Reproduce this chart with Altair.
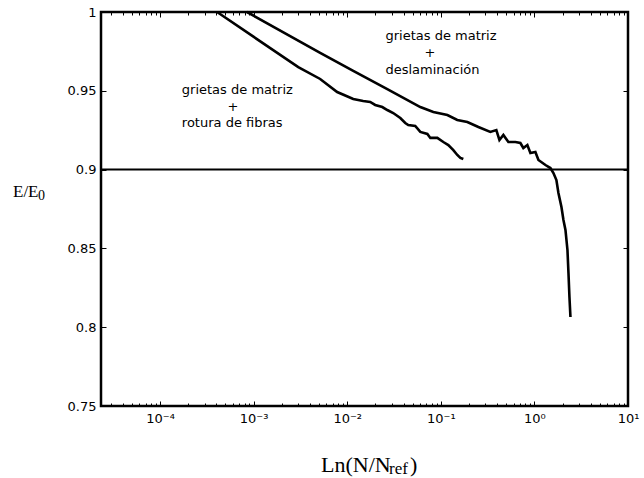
import altair as alt
import pandas as pd

# ---- data ----
delam_x = [8.5e-4, 5.14e-3, 0.0116, 0.0268, 0.0604, 0.0832, 0.1175, 0.150, 0.192, 0.252,
           0.338, 0.392, 0.423, 0.466, 0.527, 0.626, 0.708, 0.762, 0.841, 0.906,
           1.025, 1.104, 1.312, 1.483, 1.597, 1.718, 1.806, 1.945, 2.043, 2.147,
           2.255, 2.312, 2.368, 2.427]
delam_y = [1.0, 0.974, 0.9626, 0.9511, 0.9397, 0.9366, 0.9346, 0.9315, 0.9302, 0.9270,
           0.9239, 0.9251, 0.9188, 0.9220, 0.9175, 0.9175, 0.9169, 0.9137, 0.9156, 0.9105,
           0.9112, 0.9061, 0.9029, 0.9010, 0.8978, 0.8934, 0.8852, 0.8763, 0.8680, 0.8617,
           0.8490, 0.8344, 0.8192, 0.8065]

fibras_x = [4.07e-4, 3.0e-3, 5.14e-3, 7.81e-3, 0.0116, 0.0148, 0.0176, 0.0199, 0.0237, 0.0268, 0.0310,
            0.0369, 0.0417, 0.0449, 0.0533, 0.0604, 0.0718, 0.0773, 0.0918, 0.1064, 0.1203,
            0.1361, 0.150, 0.1618, 0.174]
fibras_y = [1.0, 0.9650, 0.9575, 0.9492, 0.9448, 0.9435, 0.9429, 0.9410, 0.9397, 0.9378, 0.9359,
            0.9327, 0.9296, 0.9283, 0.9277, 0.9239, 0.9226, 0.9201, 0.9201, 0.9175, 0.9156,
            0.9124, 0.9093, 0.9074, 0.9067]

threshold = [0.9]

ann1_text = ["grietas de matriz", "+", "rotura de fibras"]
ann1_x = [6.7e-4, 6.0e-4, 5.9e-4]
ann1_y = [0.9505, 0.9397, 0.9296]

ann2_text = ["grietas de matriz", "+", "deslaminación"]
ann2_x = [0.1005, 0.0767, 0.0815]
ann2_y = [0.9848, 0.9740, 0.9632]

x_domain = [2.34e-5, 10]
y_domain = [0.75, 1.0]
x_major = [1e-4, 1e-3, 1e-2, 1e-1, 1, 10]
x_minor = [k * 10.0 ** e for e in range(-5, 1) for k in range(2, 10) if k * 10.0 ** e >= 2.34e-5]
y_ticks = [0.75, 0.8, 0.85, 0.9, 0.95, 1.0]

y_title = ["E/E", "0"]
x_title = ["Ln(N/N", "ref", ")"]

LABEL_FONT = "DejaVu Sans"
SERIF = "Liberation Serif"

xscale = alt.Scale(type="log", domain=x_domain, nice=False)
yscale = alt.Scale(domain=y_domain, nice=False)


def x_axis(orient, values, size, labels=False):
    kw = dict(orient=orient, values=values, tickSize=size, offset=-size, domain=False,
              grid=False, labels=labels, title=None, tickColor="black", tickWidth=1)
    if labels:
        kw.update(labelExpr=("datum.value < 5e-4 ? '10⁻⁴' : datum.value < 5e-3 ? '10⁻³' : "
                             "datum.value < 5e-2 ? '10⁻²' : datum.value < 0.5 ? '10⁻¹' : "
                             "datum.value < 5 ? '10⁰' : '10¹'"),
                  labelFont=LABEL_FONT, labelFontSize=13, labelColor="black",
                  labelPadding=6, labelFlush=False)
    return alt.Axis(**kw)


def y_axis(orient, labels=False):
    kw = dict(orient=orient, values=y_ticks, tickSize=5, offset=-5, domain=False,
              grid=False, labels=labels, title=None, tickColor="black", tickWidth=1)
    if labels:
        kw.update(labelExpr="'' + datum.value", labelFont=LABEL_FONT, labelFontSize=13,
                  labelColor="black", labelPadding=5, labelFlush=False)
    return alt.Axis(**kw)


delam_df = pd.DataFrame({"x": delam_x, "y": delam_y, "i": range(len(delam_x))})
fibras_df = pd.DataFrame({"x": fibras_x, "y": fibras_y, "i": range(len(fibras_x))})
ann1_df = pd.DataFrame({"x": ann1_x, "y": ann1_y, "t": ann1_text})
ann2_df = pd.DataFrame({"x": ann2_x, "y": ann2_y, "t": ann2_text})
thr_df = pd.DataFrame({"y": threshold})

delam = alt.Chart(delam_df).mark_line(color="black", strokeWidth=2.6).encode(
    x=alt.X("x:Q", scale=xscale, axis=x_axis("bottom", x_major, 5, labels=True)),
    y=alt.Y("y:Q", scale=yscale, axis=y_axis("left", labels=True)),
    order="i:Q",
)

fibras = alt.Chart(fibras_df).mark_line(color="black", strokeWidth=2.6).encode(
    x=alt.X("x:Q", scale=xscale, axis=x_axis("bottom", x_minor, 3)),
    y=alt.Y("y:Q", scale=yscale, axis=y_axis("right")),
    order="i:Q",
)

ann1 = alt.Chart(ann1_df).mark_text(font=LABEL_FONT, fontSize=13, color="black",
                                    align="center", baseline="middle").encode(
    x=alt.X("x:Q", scale=xscale, axis=x_axis("top", x_major, 5)),
    y=alt.Y("y:Q", scale=yscale, axis=None),
    text="t:N",
)

ann2 = alt.Chart(ann2_df).mark_text(font=LABEL_FONT, fontSize=13, color="black",
                                    align="center", baseline="middle").encode(
    x=alt.X("x:Q", scale=xscale, axis=x_axis("top", x_minor, 3)),
    y=alt.Y("y:Q", scale=yscale, axis=None),
    text="t:N",
)

thr = alt.Chart(thr_df).mark_rule(color="black", strokeWidth=2).encode(
    y=alt.Y("y:Q", scale=yscale, axis=None),
)

one = alt.Data(values=[{}])

frame = alt.Chart(one).mark_rect(fill="white", fillOpacity=0, stroke="black",
                                 strokeWidth=2.5, strokeOpacity=1).encode(
    x=alt.value(0), x2=alt.value("width"), y=alt.value(0), y2=alt.value("height"))

titles = [
    alt.Chart(one).mark_text(text=y_title[0], font=SERIF, fontSize=17, color="black",
                             align="left", baseline="alphabetic").encode(
        x=alt.value(-88), y=alt.value(185)),
    alt.Chart(one).mark_text(text=y_title[1], font=SERIF, fontSize=14, color="black",
                             align="left", baseline="alphabetic").encode(
        x=alt.value(-63), y=alt.value(188)),
    alt.Chart(one).mark_text(text=x_title[0], font=SERIF, fontSize=22, color="black",
                             align="left", baseline="alphabetic").encode(
        x=alt.value(220), y=alt.value(460)),
    alt.Chart(one).mark_text(text=x_title[1], font=SERIF, fontSize=17, color="black",
                             align="left", baseline="alphabetic").encode(
        x=alt.value(288), y=alt.value(462)),
    alt.Chart(one).mark_text(text=x_title[2], font=SERIF, fontSize=22, color="black",
                             align="left", baseline="alphabetic").encode(
        x=alt.value(309), y=alt.value(460)),
]

chart = alt.layer(delam, fibras, ann1, ann2, thr, *titles, frame).resolve_axis(
    x="independent", y="independent"
).properties(
    width=527, height=394,
    background="white",
    autosize=alt.AutoSizeParams(type="none"),
    padding={"left": 101, "top": 12, "right": 16, "bottom": 72},
).configure_view(
    stroke="transparent"
)

chart.save("out.html", embed_options={"renderer": "svg", "actions": False})
